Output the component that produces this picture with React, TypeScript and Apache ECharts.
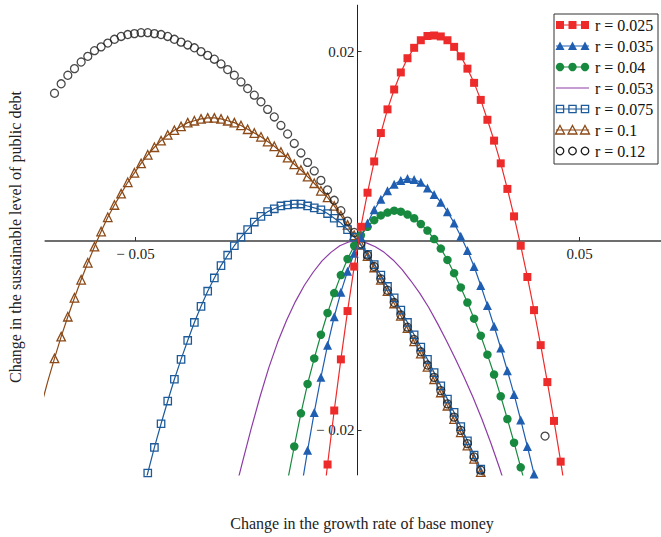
import React, { useEffect, useRef } from "react";
import * as echarts from "echarts";

// r = 0.025 (filled red squares)
const r025: number[][] = [
  [-0.00825, -0.0297], [-0.00675, -0.0236], [-0.00525, -0.0179], [-0.00375, -0.0125], [-0.00225, -0.0074],
  [-0.00075, -0.0027], [0.00075, 0.0015], [0.00225, 0.0051], [0.00375, 0.0084], [0.00525, 0.0114],
  [0.00675, 0.0139], [0.00825, 0.016], [0.00975, 0.0178], [0.01125, 0.0193], [0.01275, 0.0204],
  [0.01425, 0.0212], [0.01575, 0.02165], [0.01725, 0.0217], [0.01875, 0.0216], [0.02025, 0.0212],
  [0.02175, 0.0205], [0.02325, 0.0195], [0.02475, 0.0182], [0.02625, 0.0167], [0.02775, 0.0149],
  [0.02925, 0.0128], [0.03075, 0.0106], [0.03225, 0.0082], [0.03375, 0.0055], [0.03525, 0.0026],
  [0.03675, -0.0005], [0.03825, -0.0038], [0.03975, -0.0073], [0.04125, -0.011], [0.04275, -0.0149],
  [0.04425, -0.019], [0.04575, -0.0233], [0.04725, -0.0278],
];

// r = 0.035 (filled blue triangles)
const r035: number[][] = [
  [-0.01275, -0.0264], [-0.01125, -0.0221], [-0.00975, -0.0181], [-0.00825, -0.0144], [-0.00675, -0.011],
  [-0.00525, -0.008], [-0.00375, -0.0054], [-0.00225, -0.0032], [-0.00075, -0.0013], [0.00075, 0.0004],
  [0.00225, 0.0019], [0.00375, 0.0033], [0.00525, 0.0044], [0.00675, 0.0053], [0.00825, 0.006],
  [0.00975, 0.0064], [0.01125, 0.0066], [0.01275, 0.0065], [0.01425, 0.0062], [0.01575, 0.0056],
  [0.01725, 0.0049], [0.01875, 0.0041], [0.02025, 0.0031], [0.02175, 0.0019], [0.02325, 0.0005],
  [0.02475, -0.001], [0.02625, -0.0027], [0.02775, -0.0047], [0.02925, -0.0068], [0.03075, -0.009],
  [0.03225, -0.0113], [0.03375, -0.0137], [0.03525, -0.0162], [0.03675, -0.0189], [0.03825, -0.0217],
  [0.03975, -0.0246], [0.04125, -0.0276],
];

// r = 0.04 (filled green circles)
const r04: number[][] = [
  [-0.01575, -0.0253], [-0.01425, -0.0217], [-0.01275, -0.0182], [-0.01125, -0.0151], [-0.00975, -0.0124],
  [-0.00825, -0.0099], [-0.00675, -0.0076], [-0.00525, -0.0055], [-0.00375, -0.0036], [-0.00225, -0.0019],
  [-0.00075, -0.0005], [0.00075, 0.0006], [0.00225, 0.0015], [0.00375, 0.0022], [0.00525, 0.0027],
  [0.00675, 0.003], [0.00825, 0.0032], [0.00975, 0.0031], [0.01125, 0.0028], [0.01275, 0.0024],
  [0.01425, 0.0018], [0.01575, 0.0011], [0.01725, 0.0002], [0.01875, -0.0008], [0.02025, -0.002],
  [0.02175, -0.0034], [0.02325, -0.0049], [0.02475, -0.0065], [0.02625, -0.0082], [0.02775, -0.01],
  [0.02925, -0.012], [0.03075, -0.0141], [0.03225, -0.0164], [0.03375, -0.0188], [0.03525, -0.0213],
  [0.03675, -0.0239], [0.03825, -0.0266],
];

// r = 0.053 (purple line, no markers)
const r053: number[][] = [
  [-0.028, -0.0272], [-0.026, -0.0235], [-0.024, -0.0199], [-0.022, -0.0165], [-0.02, -0.0134],
  [-0.018, -0.0107], [-0.016, -0.0084], [-0.014, -0.0064], [-0.012, -0.0047], [-0.01, -0.0033],
  [-0.008, -0.0021], [-0.006, -0.0012], [-0.004, -0.0005], [-0.002, -0.0001], [0, 0],
  [0.002, -0.0002], [0.004, -0.0006], [0.006, -0.0012], [0.008, -0.002], [0.01, -0.003],
  [0.012, -0.0042], [0.014, -0.0055], [0.016, -0.007], [0.018, -0.0087], [0.02, -0.0105],
  [0.022, -0.0124], [0.024, -0.0144], [0.026, -0.0165], [0.028, -0.0188], [0.03, -0.0213],
  [0.032, -0.024], [0.034, -0.0269],
];

// r = 0.075 (hollow blue squares)
const r075: number[][] = [
  [-0.04875, -0.0273], [-0.04725, -0.0245], [-0.04575, -0.0218], [-0.04425, -0.0193], [-0.04275, -0.0169],
  [-0.04125, -0.0146], [-0.03975, -0.0125], [-0.03825, -0.0105], [-0.03675, -0.0086], [-0.03525, -0.0069],
  [-0.03375, -0.0053], [-0.03225, -0.0039], [-0.03075, -0.0026], [-0.02925, -0.0015], [-0.02775, -0.0005],
  [-0.02625, 0.0004], [-0.02475, 0.0012], [-0.02325, 0.002], [-0.02175, 0.0026], [-0.02025, 0.0031],
  [-0.01875, 0.0034], [-0.01725, 0.0037], [-0.01575, 0.0038], [-0.01425, 0.0039], [-0.01275, 0.0039],
  [-0.01125, 0.0037], [-0.00975, 0.0035], [-0.00825, 0.0033], [-0.00675, 0.0029], [-0.00525, 0.0024],
  [-0.00375, 0.0019], [-0.00225, 0.0012], [-0.00075, 0.0004], [0.00075, -0.0004], [0.00225, -0.0014],
  [0.00375, -0.0025], [0.00525, -0.0036], [0.00675, -0.0048], [0.00825, -0.006], [0.00975, -0.0073],
  [0.01125, -0.0086], [0.01275, -0.0099], [0.01425, -0.0112], [0.01575, -0.0125], [0.01725, -0.0139],
  [0.01875, -0.0153], [0.02025, -0.0167], [0.02175, -0.0181], [0.02325, -0.0196], [0.02475, -0.0211],
  [0.02625, -0.0226], [0.02775, -0.0241], [0.02925, -0.0256],
];

// r = 0.1 (hollow brown triangles); first two points continue the curve to the frame edge
const r10: number[][] = [
  [-0.07125, -0.0174], [-0.06975, -0.0148],
  [-0.06825, -0.0124], [-0.06675, -0.0101], [-0.06525, -0.008], [-0.06375, -0.006], [-0.06225, -0.0041],
  [-0.06075, -0.0023], [-0.05925, -0.0006], [-0.05775, 0.001], [-0.05625, 0.0025], [-0.05475, 0.0038],
  [-0.05325, 0.005], [-0.05175, 0.0062], [-0.05025, 0.0072], [-0.04875, 0.0082], [-0.04725, 0.0091],
  [-0.04575, 0.0099], [-0.04425, 0.0106], [-0.04275, 0.0112], [-0.04125, 0.0117], [-0.03975, 0.0121],
  [-0.03825, 0.0125], [-0.03675, 0.0127], [-0.03525, 0.0129], [-0.03375, 0.013], [-0.03225, 0.013],
  [-0.03075, 0.0129], [-0.02925, 0.0127], [-0.02775, 0.0125], [-0.02625, 0.0122], [-0.02475, 0.0118],
  [-0.02325, 0.0114], [-0.02175, 0.011], [-0.02025, 0.0105], [-0.01875, 0.01], [-0.01725, 0.0094],
  [-0.01575, 0.0088], [-0.01425, 0.0081], [-0.01275, 0.0075], [-0.01125, 0.0068], [-0.00975, 0.0061],
  [-0.00825, 0.0053], [-0.00675, 0.0046], [-0.00525, 0.0037], [-0.00375, 0.0027], [-0.00225, 0.0017],
  [-0.00075, 0.0006], [0.00075, -0.0004], [0.00225, -0.0016], [0.00375, -0.0028], [0.00525, -0.0041],
  [0.00675, -0.0053], [0.00825, -0.0066], [0.00975, -0.0079], [0.01125, -0.0092], [0.01275, -0.0106],
  [0.01425, -0.0119], [0.01575, -0.0133], [0.01725, -0.0146], [0.01875, -0.016], [0.02025, -0.0174],
  [0.02175, -0.0188], [0.02325, -0.0202], [0.02475, -0.0216], [0.02625, -0.023], [0.02775, -0.0244],
  [0.02925, -0.0258],
];

// r = 0.12 (hollow black circles, no line)
const r12: number[][] = [
  [-0.06825, 0.0156], [-0.06675, 0.0166], [-0.06525, 0.0175], [-0.06375, 0.0182], [-0.06225, 0.0189],
  [-0.06075, 0.0195], [-0.05925, 0.0201], [-0.05775, 0.0205], [-0.05625, 0.0209], [-0.05475, 0.0213],
  [-0.05325, 0.0216], [-0.05175, 0.0218], [-0.05025, 0.0219], [-0.04875, 0.022], [-0.04725, 0.022],
  [-0.04575, 0.0219], [-0.04425, 0.0218], [-0.04275, 0.0216], [-0.04125, 0.0213], [-0.03975, 0.021],
  [-0.03825, 0.0207], [-0.03675, 0.0204], [-0.03525, 0.02], [-0.03375, 0.0196], [-0.03225, 0.0192],
  [-0.03075, 0.0187], [-0.02925, 0.0181], [-0.02775, 0.0175], [-0.02625, 0.0168], [-0.02475, 0.0161],
  [-0.02325, 0.0154], [-0.02175, 0.0147], [-0.02025, 0.0139], [-0.01875, 0.0131], [-0.01725, 0.0122],
  [-0.01575, 0.0113], [-0.01425, 0.0103], [-0.01275, 0.0093], [-0.01125, 0.0083], [-0.00975, 0.0074],
  [-0.00825, 0.0064], [-0.00675, 0.0054], [-0.00525, 0.0043], [-0.00375, 0.0032], [-0.00225, 0.0021],
  [-0.00075, 0.0009], [0.00075, -0.0003], [0.00225, -0.0015], [0.00375, -0.0027], [0.00525, -0.004],
  [0.00675, -0.0052], [0.00825, -0.0065], [0.00975, -0.0078], [0.01125, -0.0091], [0.01275, -0.0104],
  [0.01425, -0.0117], [0.01575, -0.0131], [0.01725, -0.0144], [0.01875, -0.0158], [0.02025, -0.0172],
  [0.02175, -0.0186], [0.02325, -0.02], [0.02475, -0.0214], [0.02625, -0.0228], [0.02775, -0.0242],
  [0.02925, -0.0256], [0.04223, -0.0206],
];

const xTickValues = [-0.05, 0.05];
const yTickValues = [-0.02, 0.02];
const legendLabels = ["r = 0.025", "r = 0.035", "r = 0.04", "r = 0.053", "r = 0.075", "r = 0.1", "r = 0.12"];
const xTitle = "Change in the growth rate of base money";
const yTitle = "Change in the sustainable level of public debt";

const X_MIN = -0.0703;
const X_MAX = 0.0683;
const Y_MIN = -0.0247;
const Y_MAX = 0.0249;

const RED = "#ee2b2b";
const BLUE_T = "#1f5eb0";
const GREEN = "#178a3f";
const PURPLE = "#8d3ba6";
const BLUE_S = "#1d5b9a";
const BROWN = "#8b4a18";
const BLACK = "#1a1a1a";
const SERIF = '"Liberation Serif", "Times New Roman", serif';

const GRID = { left: 45.4, top: 5.2, width: 615.4, height: 469.7 };

const fmt = (v: number) => (v < 0 ? "\u2212 " + String(Math.abs(v)) : String(v));

type Marker = "rect" | "triangle" | "circle" | "none";
const legendStyles: { color: string; marker: Marker; hollow: boolean; line: boolean }[] = [
  { color: RED, marker: "rect", hollow: false, line: true },
  { color: BLUE_T, marker: "triangle", hollow: false, line: true },
  { color: GREEN, marker: "circle", hollow: false, line: true },
  { color: PURPLE, marker: "none", hollow: false, line: true },
  { color: BLUE_S, marker: "rect", hollow: true, line: true },
  { color: BROWN, marker: "triangle", hollow: true, line: true },
  { color: BLACK, marker: "circle", hollow: true, line: false },
];

function legendGraphic() {
  const gx = 554;
  const gy = 14;
  const children: any[] = [
    {
      type: "rect",
      shape: { x: 0, y: 0, width: 104, height: 150 },
      style: { fill: "#fff", stroke: "#333", lineWidth: 1 },
    },
  ];
  legendStyles.forEach((s, i) => {
    const cy = 11 + i * 21;
    if (s.line) {
      children.push({
        type: "line",
        shape: { x1: 2, y1: cy, x2: 35, y2: cy },
        style: { stroke: s.color, lineWidth: 1.2 },
      });
    }
    const fill = s.hollow ? "rgba(0,0,0,0)" : s.color;
    const stroke = s.color;
    const lw = s.hollow ? 1.3 : 0;
    [6, 18.5, 31].forEach((cx) => {
      if (s.marker === "rect") {
        const h = s.hollow ? 3.6 : 4;
        children.push({
          type: "rect",
          shape: { x: cx - h, y: cy - h, width: 2 * h, height: 2 * h },
          style: { fill, stroke, lineWidth: lw },
        });
      } else if (s.marker === "circle") {
        children.push({
          type: "circle",
          shape: { cx, cy, r: s.hollow ? 3.8 : 4.2 },
          style: { fill, stroke, lineWidth: lw },
        });
      } else if (s.marker === "triangle") {
        children.push({
          type: "polygon",
          shape: { points: [[cx, cy - 4.5], [cx + 4.5, cy + 4], [cx - 4.5, cy + 4]] },
          style: { fill, stroke, lineWidth: lw },
        });
      }
    });
    children.push({
      type: "text",
      x: 41,
      y: cy,
      style: {
        text: legendLabels[i],
        fill: "#111",
        font: "16px " + SERIF,
        textAlign: "left",
        textVerticalAlign: "middle",
        align: "left",
        verticalAlign: "middle",
      },
    });
  });
  return { type: "group", x: gx, y: gy, z: 100, children };
}

export default function App() {
  const ref = useRef<HTMLDivElement>(null);
  useEffect(() => {
    if (!ref.current) return;
    const chart = echarts.init(ref.current, null, { renderer: "svg" });
    const lineSeries = (name: string, data: any[], color: string, symbol: string, size: number, hollow: boolean, z: number) => ({
      type: "line",
      name,
      data,
      symbol,
      symbolSize: size,
      showSymbol: symbol !== "none",
      clip: true,
      silent: true,
      z,
      lineStyle: { color, width: 1.2 },
      itemStyle: hollow
        ? { color: "rgba(0,0,0,0)", borderColor: color, borderWidth: 1.3 }
        : { color, borderWidth: 0 },
      emphasis: { disabled: true },
    });
    // place axes through the origin (offset from the grid edge to the zero line)
    const zeroYpx = GRID.top + (GRID.height * Y_MAX) / (Y_MAX - Y_MIN);
    const xOffset = -(GRID.top + GRID.height - zeroYpx);
    const zeroXpx = GRID.left + (GRID.width * -X_MIN) / (X_MAX - X_MIN);
    const yOffset = -(zeroXpx - GRID.left);
    const option: any = {
      animation: false,
      backgroundColor: "#fff",
      grid: { ...GRID, containLabel: false },
      xAxis: {
        type: "value",
        min: X_MIN,
        max: X_MAX,
        position: "bottom",
        offset: xOffset,
        axisLine: { onZero: false, lineStyle: { color: "#6e6e6e", width: 2 } },
        axisTick: { show: true, inside: true, length: 4, customValues: xTickValues, lineStyle: { color: "#333", width: 1 } },
        axisLabel: { customValues: xTickValues, formatter: fmt, margin: 6, color: "#222", fontSize: 15, fontFamily: SERIF },
        splitLine: { show: false },
      },
      yAxis: {
        type: "value",
        min: Y_MIN,
        max: Y_MAX,
        position: "left",
        offset: yOffset,
        axisLine: { onZero: false, lineStyle: { color: "#222", width: 1 } },
        axisTick: { show: true, inside: true, length: 4, customValues: yTickValues, lineStyle: { color: "#333", width: 1 } },
        axisLabel: { customValues: yTickValues, formatter: fmt, margin: 3, color: "#222", fontSize: 15, fontFamily: SERIF },
        splitLine: { show: false },
      },
      series: [
        lineSeries(legendLabels[3], r053, PURPLE, "none", 0, false, 2),
        lineSeries(
          legendLabels[5],
          r10.map((p, i) => (i < 2 ? { value: p, symbol: "none" } : p)),
          BROWN,
          "triangle",
          8.5,
          true,
          3
        ),
        lineSeries(legendLabels[4], r075, BLUE_S, "rect", 7.4, true, 4),
        {
          type: "scatter",
          name: legendLabels[6],
          data: r12,
          symbol: "circle",
          symbolSize: 8,
          clip: true,
          silent: true,
          z: 5,
          itemStyle: { color: "rgba(0,0,0,0)", borderColor: BLACK, borderWidth: 1.3 },
        },
        lineSeries(legendLabels[2], r04, GREEN, "circle", 8.5, false, 6),
        lineSeries(legendLabels[1], r035, BLUE_T, "triangle", 9, false, 7),
        lineSeries(legendLabels[0], r025, RED, "rect", 8, false, 8),
      ],
      graphic: [
        legendGraphic(),
        {
          type: "text",
          x: 362,
          y: 523,
          z: 100,
          style: {
            text: xTitle,
            fill: "#222",
            font: "16px " + SERIF,
            textAlign: "center",
            textVerticalAlign: "middle",
            align: "center",
            verticalAlign: "middle",
          },
        },
        {
          type: "text",
          x: 15,
          y: 237,
          rotation: Math.PI / 2,
          z: 100,
          style: {
            text: yTitle,
            fill: "#222",
            font: "16px " + SERIF,
            textAlign: "center",
            textVerticalAlign: "middle",
            align: "center",
            verticalAlign: "middle",
          },
        },
      ],
    };
    chart.setOption(option);
    return () => chart.dispose();
  }, []);
  return (
    <div
      ref={ref}
      style={{ position: "fixed", left: 0, top: 0, width: 661, height: 537, background: "#fff" }}
    />
  );
}
